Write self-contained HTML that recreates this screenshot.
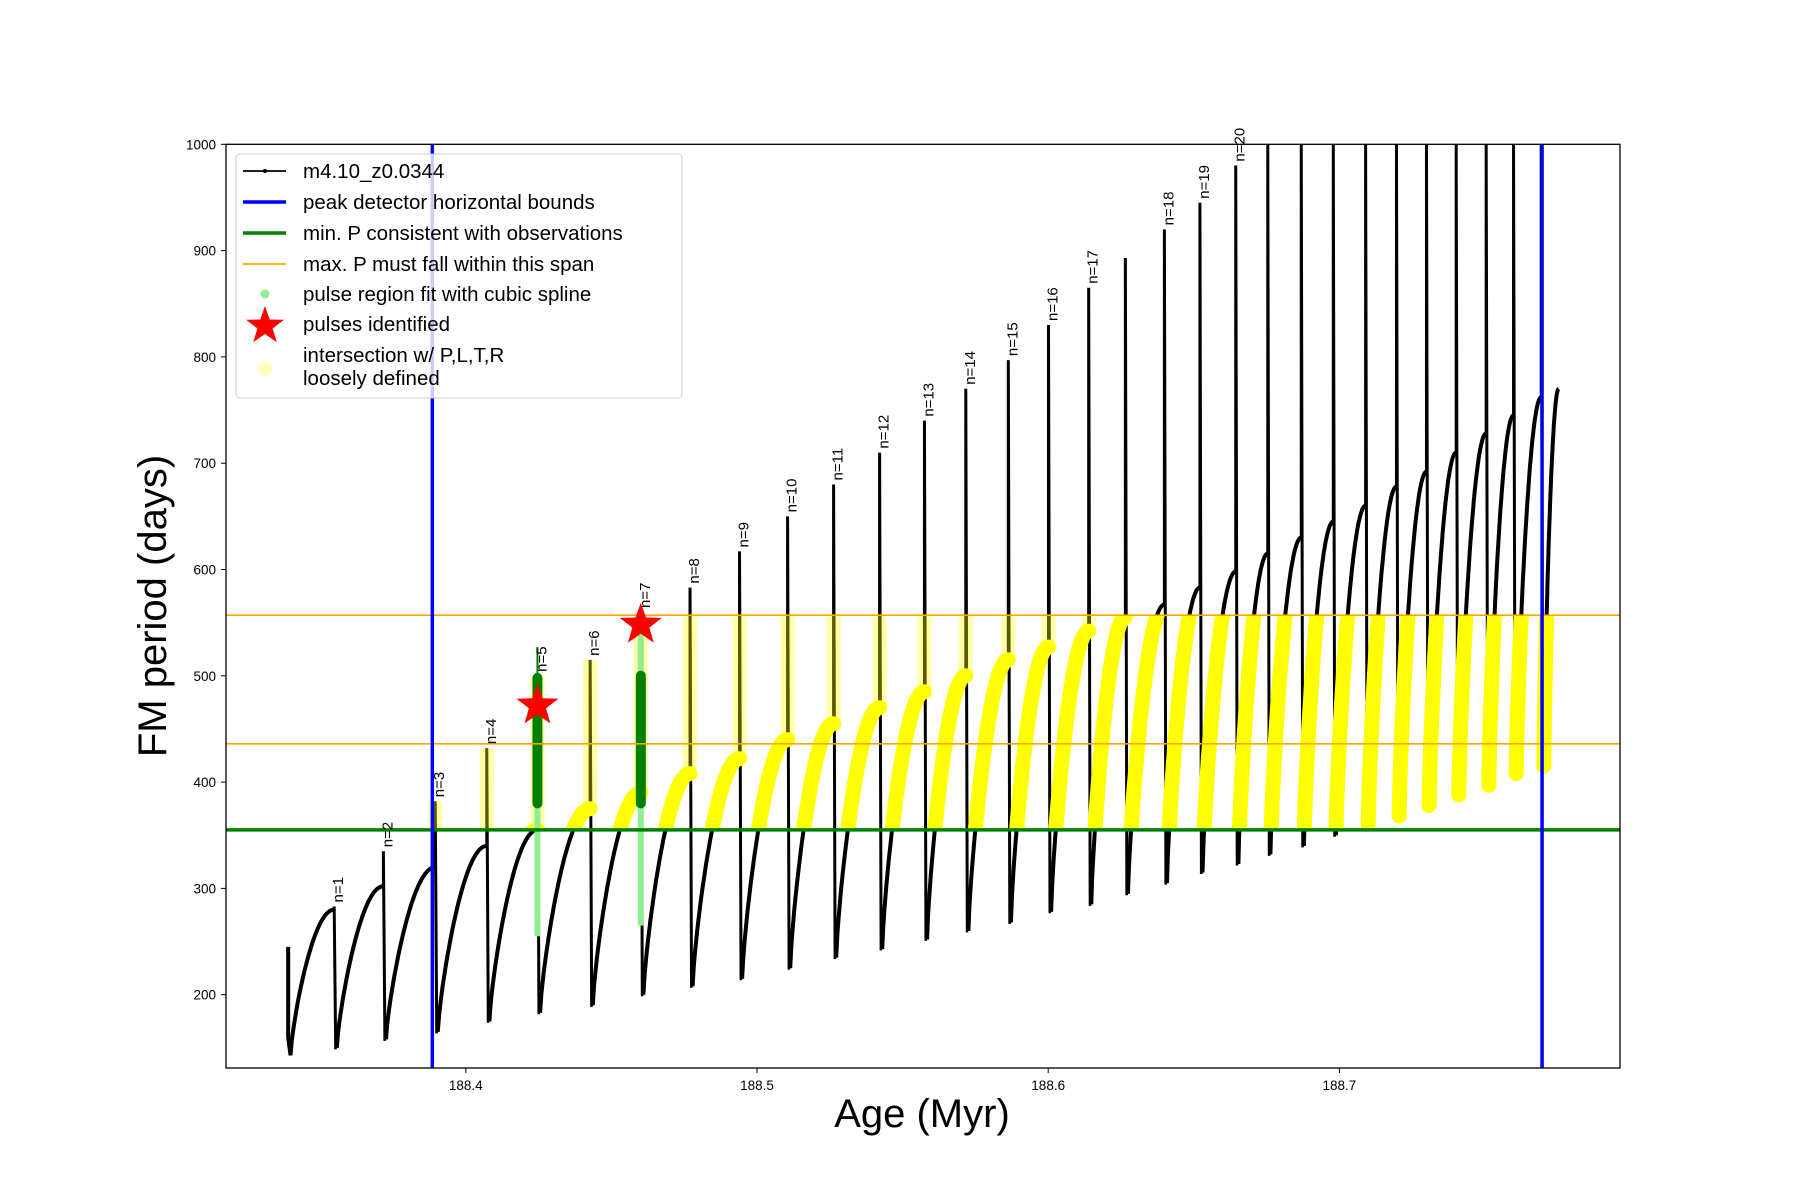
<!DOCTYPE html>
<html><head><meta charset="utf-8"><style>
html,body{margin:0;padding:0;background:#fff;}
svg{display:block;font-family:"Liberation Sans","DejaVu Sans",sans-serif;}
</style></head><body>
<svg id="chart" width="1800" height="1200" viewBox="0 0 1800 1200" xmlns="http://www.w3.org/2000/svg">
<defs>
<clipPath id="plotclip"><rect x="226" y="144.3" width="1394" height="923.7"/></clipPath>
<clipPath id="bandclip"><rect x="226" y="0" width="1394" height="1200" id="bandrect"/></clipPath>
</defs>
<rect width="1800" height="1200" fill="#fff"/>
<g id="plot" clip-path="url(#plotclip)"></g>
<g id="axes"></g>
</svg>
<script>
const startAge = 188.339, startP = 245, firstTrough = 143;
const spikeAge = [188.3548,188.3717,188.3895,188.4072,188.4246,188.4427,188.4601,188.4770,188.4940,188.5105,188.5263,188.5421,188.5575,188.5717,188.5863,188.6001,188.6139,188.6265,188.6399,188.6521,188.6644,188.6754,188.6869,188.6979,188.7090,188.7196,188.7299,188.7401,188.7504,188.7598,188.7693];
const preMax = [280,302,320,340,355,375,390,408,422,440,455,470,485,500,515,527,542,555,567,583,598,615,630,645,660,678,692,710,728,745,762];
const spikeTop = [283,335,382,432,500,515,560,583,617,650,680,710,740,770,797,830,865,893,920,945,980,1000,1000,1000,1000,1000,1000,1000,1000,1000,1000];
const trough = [150,158,165,175,183,190,200,208,215,225,235,243,252,260,268,278,285,295,305,315,323,332,340,350,360,368,378,388,397,408,415];
const labelIdx = [0,1,2,3,4,5,6,7,8,9,10,11,12,13,14,15,16,18,19,20];
const labelN = [1,2,3,4,5,6,7,8,9,10,11,12,13,14,15,16,17,18,19,20];
const endAge = 188.7753, endP = 770;
const yTicks = [200,300,400,500,600,700,800,900,1000];
const xTicks = [188.4,188.5,188.6,188.7];
const minP = 355, maxPLow = 436, maxPHigh = 557;
const boundAges = [188.3885, 188.7696];
const pulseAges = [188.4246, 188.4601];
const pulseP = [472, 548];

const NS = "http://www.w3.org/2000/svg";
const X = a => 465.8 + (a - 188.4) * 2912;
const Y = p => 144.3 + (1000 - p) * 1.063;
const plot = document.getElementById('plot');
const axes = document.getElementById('axes');
function mk(tag, attrs, parent) {
  const e = document.createElementNS(NS, tag);
  for (const k in attrs) e.setAttribute(k, attrs[k]);
  (parent || plot).appendChild(e);
  return e;
}
function riseCurve(a0, p0, a1, p1, steps) {
  const pts = [];
  for (let s = 0; s <= steps; s++) {
    const u = s / steps;
    const f = Math.pow(Math.sin(u * Math.PI / 2), 0.75);
    pts.push([X(a0 + (a1 - a0) * u), Y(p0 + (p1 - p0) * f)]);
  }
  return pts;
}
const segs = [];
segs.push(riseCurve(startAge + 0.0008, firstTrough, spikeAge[0], preMax[0], 40));
for (let i = 0; i < spikeAge.length; i++) {
  const a0 = spikeAge[i] + 0.0009;
  const a1 = i + 1 < spikeAge.length ? spikeAge[i + 1] : endAge;
  const p1 = i + 1 < spikeAge.length ? preMax[i + 1] : endP;
  segs.push(riseCurve(a0, trough[i], a1, p1, 40));
}
const toD = pts => pts.map((p, j) => (j ? 'L' : 'M') + p[0].toFixed(1) + ',' + p[1].toFixed(1)).join('');
let blackD = 'M' + X(startAge) + ',' + Y(startP) + 'L' + X(startAge) + ',' + Y(160) + 'L' + X(startAge + 0.0008) + ',' + Y(firstTrough);
segs.forEach(s => blackD += toD(s));
let spikeD = '';
for (let i = 0; i < spikeAge.length; i++) {
  const x = X(spikeAge[i]);
  spikeD += 'M' + x + ',' + Y(preMax[i]) + 'L' + x + ',' + Y(spikeTop[i]) + 'L' + (x + 1.5) + ',' + Y(trough[i]) + 'L' + X(spikeAge[i] + 0.0009) + ',' + Y(trough[i]);
}
const bl = mk('path', {d: blackD, fill: 'none', stroke: '#000', 'stroke-width': 4});


const sp = mk('path', {d: spikeD, fill: 'none', stroke: '#000', 'stroke-width': 3});


const band = document.getElementById('bandrect');
band.setAttribute('y', Y(maxPHigh));
band.setAttribute('height', Y(minP) - Y(maxPHigh));
const yg = mk('g', {'clip-path': 'url(#bandclip)'});


let spikeBandD = '';
for (let i = 0; i < spikeAge.length; i++) {
  spikeBandD += 'M' + X(spikeAge[i]) + ',' + Y(preMax[i]) + 'L' + X(spikeAge[i]) + ',' + Y(spikeTop[i]);
}
const ys = mk('path', {d: spikeBandD, fill: 'none', stroke: '#ffff00', 'stroke-width': 14, opacity: 0.35}, yg);


let yD = '';
segs.forEach(s => yD += toD(s));
const yc = mk('path', {d: yD, fill: 'none', stroke: '#ffff00', 'stroke-width': 15, 'stroke-linecap': 'round'}, yg);


pulseAges.forEach((a, k) => {
  const x = X(a);
  const lg = mk('line', {x1: x, x2: x, y1: Y(k ? 265 : 255), y2: Y(k ? 560 : 500), stroke: '#90ee90', 'stroke-width': 6});
  
  
  const dg = mk('line', {x1: x, x2: x, y1: Y(380), y2: Y(k ? 500 : 498), stroke: '#008000', 'stroke-width': 10, 'stroke-linecap': 'round'});
  
  
  if (!k) {
    const tip = mk('line', {x1: x, x2: x, y1: Y(498), y2: Y(527), stroke: '#008000', 'stroke-width': 2});
    
    
  }
});
const gl = mk('line', {x1: 226, x2: 1620, y1: Y(minP), y2: Y(minP), stroke: '#008000', 'stroke-width': 3.5});


[maxPLow, maxPHigh].forEach(v => {
  const ol = mk('line', {x1: 226, x2: 1620, y1: Y(v), y2: Y(v), stroke: '#ffa500', 'stroke-width': 1.7});
  
  
});
boundAges.forEach(a => {
  const vl = mk('line', {x1: X(a), x2: X(a), y1: 144, y2: 1068, stroke: '#0000ff', 'stroke-width': 3.5});
  
  
});
function starPts(cx, cy, R, r) {
  const p = [];
  for (let i = 0; i < 10; i++) {
    const ang = -Math.PI / 2 + i * Math.PI / 5, rr = i % 2 ? r : R;
    p.push((cx + rr * Math.cos(ang)).toFixed(1) + ',' + (cy + rr * Math.sin(ang)).toFixed(1));
  }
  return p.join(' ');
}
pulseAges.forEach((a, k) => {
  const st = mk('polygon', {points: starPts(X(a), Y(pulseP[k]), 22, 9), fill: '#ff0000'});
  
  
});
labelIdx.forEach((i, k) => {
  const x = X(spikeAge[i]) + 9, y = Y(spikeTop[i]) - 4;
  const t = mk('text', {x: x, y: y, transform: 'rotate(-90 ' + x + ' ' + y + ')', 'font-size': 15, fill: '#000'}, axes);
  t.textContent = 'n=' + labelN[k];
  
  
});
const fr = mk('rect', {x: 226, y: 144.3, width: 1394, height: 923.7, fill: 'none', stroke: '#000', 'stroke-width': 1.3}, axes);


yTicks.forEach(v => {
  const tk = mk('line', {x1: 221, x2: 226, y1: Y(v), y2: Y(v), stroke: '#000', 'stroke-width': 1}, axes);
  
  
  const tl = mk('text', {x: 216, y: Y(v) + 5, 'text-anchor': 'end', 'font-size': 13.5}, axes);
  tl.textContent = v;
  
  
});
xTicks.forEach(v => {
  const tk = mk('line', {x1: X(v), x2: X(v), y1: 1068, y2: 1073, stroke: '#000', 'stroke-width': 1}, axes);
  
  
  const tl = mk('text', {x: X(v), y: 1090, 'text-anchor': 'middle', 'font-size': 13.5}, axes);
  tl.textContent = v.toFixed(1);
  
  
});
const xt = mk('text', {x: 922, y: 1127, 'text-anchor': 'middle', 'font-size': 40}, axes);
xt.textContent = 'Age (Myr)';


const yt = mk('text', {x: 166, y: 606, 'text-anchor': 'middle', 'font-size': 40, transform: 'rotate(-90 166 606)'}, axes);
yt.textContent = 'FM period (days)';


const lg = mk('g', {}, axes);


const lb = mk('rect', {x: 236, y: 154, width: 446, height: 244, rx: 4, fill: '#fff', 'fill-opacity': 0.8, stroke: '#ccc', 'stroke-width': 1}, lg);


const entries = [
  ['m4.10_z0.0344', 171], ['peak detector horizontal bounds', 202], ['min. P consistent with observations', 233],
  ['max. P must fall within this span', 264], ['pulse region fit with cubic spline', 294], ['pulses identified', 324]
];
entries.forEach(e => {
  const t = mk('text', {x: 303, y: e[1] + 7, 'font-size': 20.5}, lg);
  t.textContent = e[0];
  
  
});
const t7 = mk('text', {x: 303, y: 362, 'font-size': 20.5}, lg);
t7.textContent = 'intersection w/ P,L,T,R';


const t8 = mk('text', {x: 303, y: 385, 'font-size': 20.5}, lg);
t8.textContent = 'loosely defined';


const h1 = mk('line', {x1: 243, x2: 286, y1: 171, y2: 171, stroke: '#000', 'stroke-width': 1.8}, lg);


mk('circle', {cx: 265, cy: 171, r: 2, fill: '#000'}, lg);
[['#0000ff', 202, 3.5], ['#008000', 233, 3.5], ['#ffa500', 264, 1.7]].forEach(h => {
  const l = mk('line', {x1: 243, x2: 286, y1: h[1], y2: h[1], stroke: h[0], 'stroke-width': h[2]}, lg);
  
  
});
const c1 = mk('circle', {cx: 265, cy: 294, r: 4.5, fill: '#90ee90'}, lg);


const s1 = mk('polygon', {points: starPts(265, 326, 20, 8), fill: '#ff0000'}, lg);


const c2 = mk('circle', {cx: 265, cy: 369, r: 7.5, fill: '#ffffc0'}, lg);


</script>
</body></html>
